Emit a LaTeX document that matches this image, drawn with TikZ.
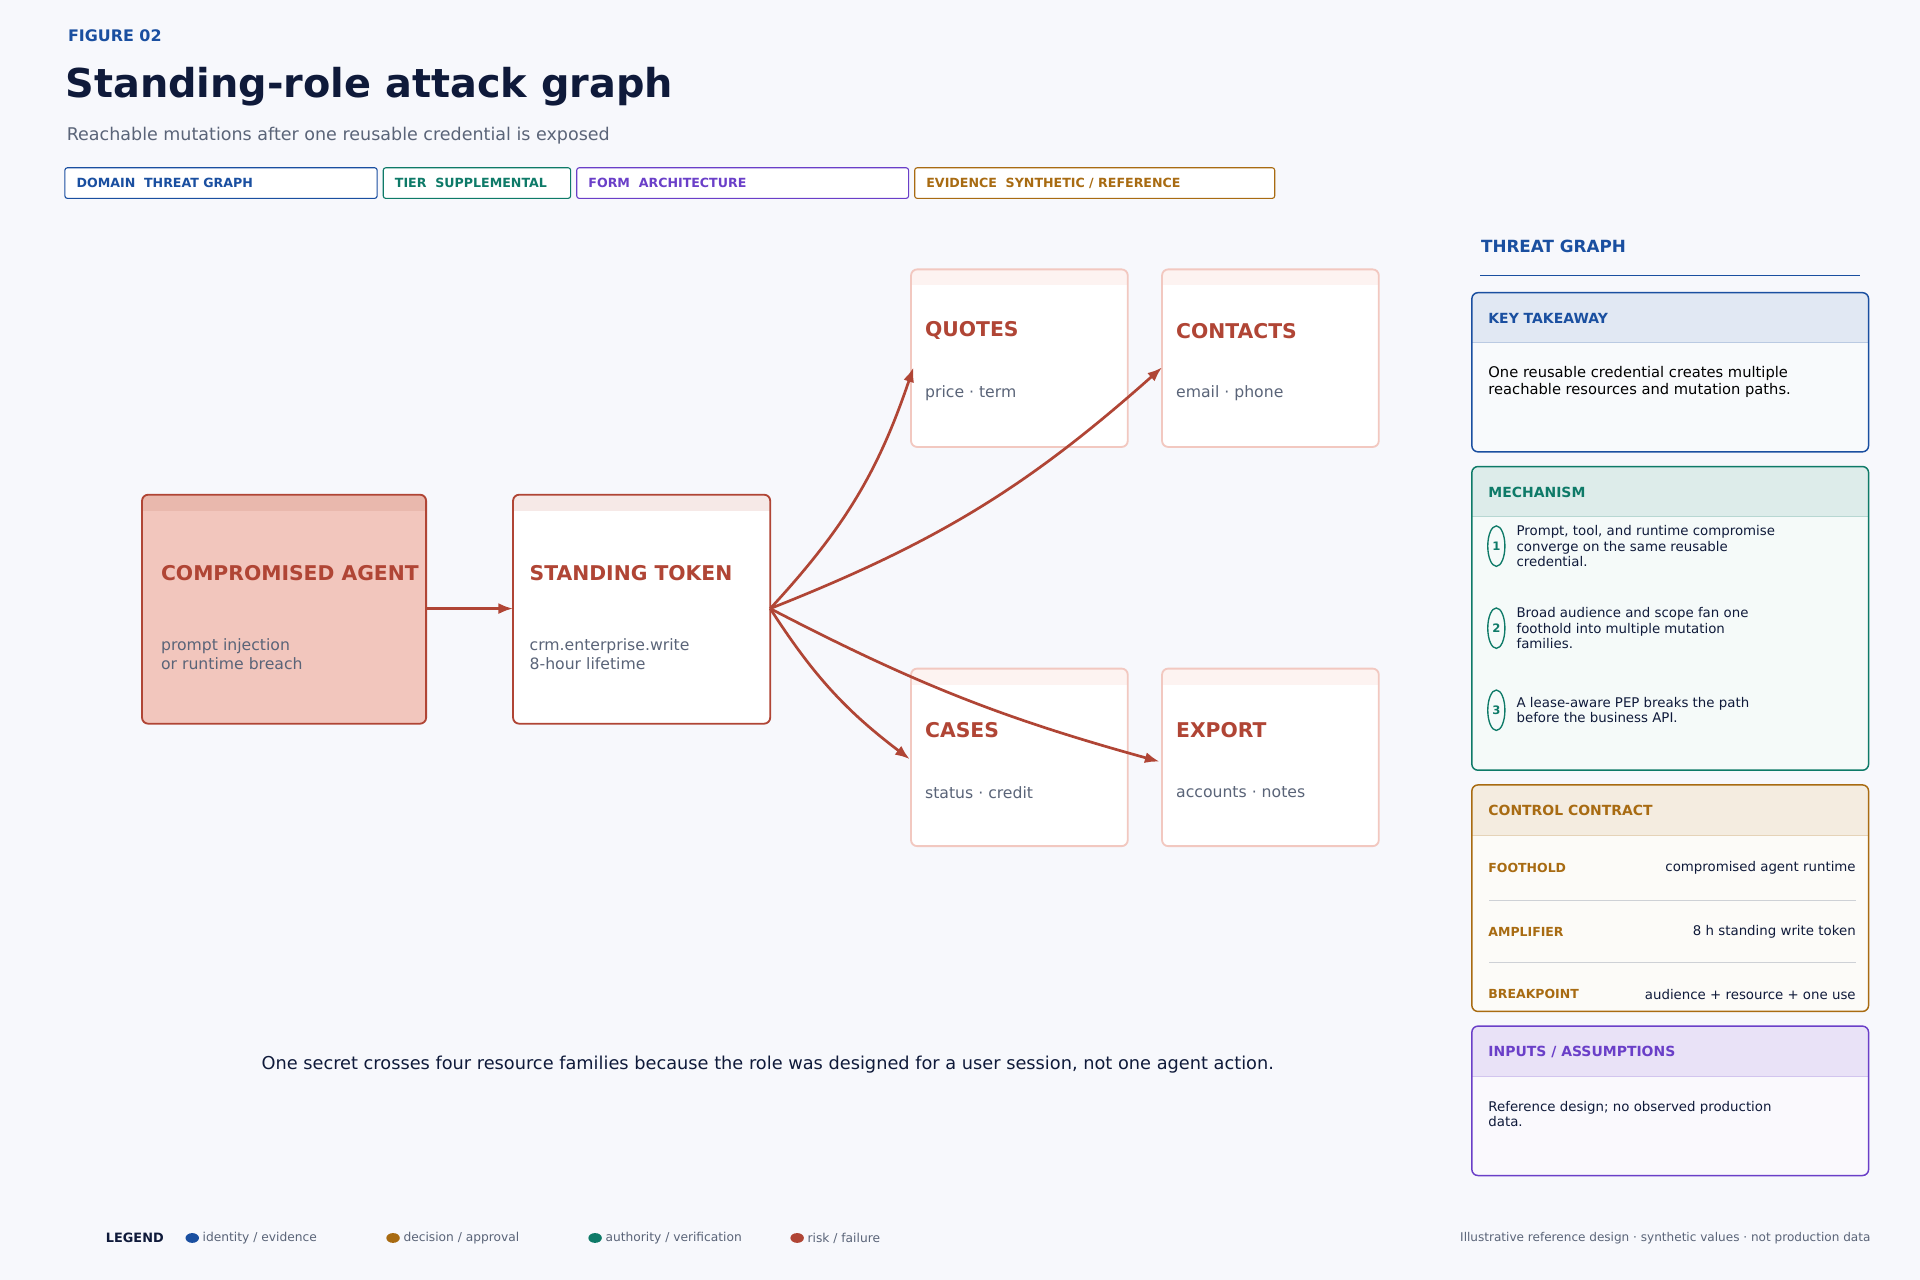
\documentclass[tikz,border=0pt]{standalone}
\usepackage{fontspec}
\setmainfont{DejaVu Sans}
\usetikzlibrary{arrows.meta,shapes.geometric}
\definecolor{bg}{HTML}{F7F8FC}
\definecolor{blu}{HTML}{1A4FA0}
\definecolor{navy}{HTML}{0F1A3A}
\definecolor{gry}{HTML}{5A6478}
\definecolor{grn}{HTML}{0E7A68}
\definecolor{pur}{HTML}{6A3FC8}
\definecolor{brn}{HTML}{A86B12}
\definecolor{red}{HTML}{B04535}
\definecolor{pink}{HTML}{F2C6BD}
\definecolor{pinkh}{HTML}{E9B8AD}
\definecolor{lpk}{HTML}{F2C8C0}
\definecolor{lph}{HTML}{FDF3F1}
\tikzset{x=1pt,y=-1pt,
 tag/.style={draw=#1,rounded corners=2,line width=0.9pt,fill=white},
 tagt/.style={anchor=west,text=#1,font=\fontsize{10.3}{12}\selectfont\bfseries},
 ttl/.style={anchor=west,text=red,font=\fontsize{16.6}{19}\selectfont\bfseries},
 sub/.style={anchor=north west,text=gry,font=\fontsize{12.8}{15.5}\selectfont,align=left},
 arr/.style={-{Latex[length=12pt,width=9pt]},draw=red,line width=2.2pt},
 ptxt/.style={anchor=north west,text=navy,font=\fontsize{10.9}{12.5}\selectfont,align=left},
 hd/.style={anchor=west,font=\fontsize{11.4}{13}\selectfont\bfseries},
 lg/.style={anchor=west,text=gry,font=\fontsize{10}{12}\selectfont}}
\begin{document}
\begin{tikzpicture}
\fill[bg] (0,0) rectangle (1568,1045);
\useasboundingbox (0,0) rectangle (1568,1045);
\node[anchor=west,text=blu,font=\fontsize{13}{15}\selectfont\bfseries] (fig) at (52,29) {FIGURE 02};
\node[anchor=west,text=navy,font=\fontsize{32.5}{38}\selectfont\bfseries] (title) at (50,71) {Standing-role attack graph};
\node[anchor=west,text=gry,font=\fontsize{14.3}{17}\selectfont] (subt) at (51,111) {Reachable mutations after one reusable credential is exposed};
\draw[tag=blu] (53,137) rectangle (308,162); \node[tagt=blu] (t1) at (59,149.5) {DOMAIN\ \ THREAT GRAPH};
\draw[tag=grn] (313,137) rectangle (466,162); \node[tagt=grn] (t2) at (319,149.5) {TIER\ \ SUPPLEMENTAL};
\draw[tag=pur] (471,137) rectangle (742,162); \node[tagt=pur] (t3) at (477,149.5) {FORM\ \ ARCHITECTURE};
\draw[tag=brn] (747,137) rectangle (1041,162); \node[tagt=brn] (t4) at (753,149.5) {EVIDENCE\ \ SYNTHETIC / REFERENCE};
% agent
\begin{scope}
\clip[rounded corners=5] (116,404) rectangle (348,591);
\fill[pink] (116,404) rectangle (348,591);
\fill[pinkh] (116,404) rectangle (348,417);
\end{scope}
\draw[red,line width=1.5pt,rounded corners=5] (116,404) rectangle (348,591);
\coordinate (agR) at (348,497);
\node[ttl] (agt) at (128,468) {COMPROMISED AGENT};
\node[sub] (ags) at (128,518) {prompt injection\\or runtime breach};
% token
\begin{scope}
\clip[rounded corners=5] (419,404) rectangle (629,591);
\fill[white] (419,404) rectangle (629,591);
\fill[red!12] (419,404) rectangle (629,417);
\end{scope}
\draw[red,line width=1.5pt,rounded corners=5] (419,404) rectangle (629,591);
\coordinate (tkL) at (419,497); \coordinate (tkR) at (629,497);
\node[ttl] (tkt) at (429,468) {STANDING TOKEN};
\node[sub] (tks) at (429,518) {crm.enterprise.write\\8-hour lifetime};
% resource boxes
\foreach \n/\x/\y/\t/\s in {q/744/220/QUOTES/price · term, c/949/220/CONTACTS/email · phone, k/744/546/CASES/status · credit, e/949/546/EXPORT/accounts · notes}{
 \begin{scope}
 \clip[rounded corners=5] (\x,\y) rectangle (\x+177,\y+145);
 \fill[white] (\x,\y) rectangle (\x+177,\y+145);
 \fill[lph] (\x,\y) rectangle (\x+177,\y+13);
 \end{scope}
 \draw[lpk,line width=1.5pt,rounded corners=5] (\x,\y) rectangle (\x+177,\y+145);
 \node[ttl] (\n t) at (\x+8,\y+50) {\t};
 \node[anchor=west,text=gry,font=\fontsize{12.8}{15}\selectfont] (\n s) at (\x+8,\y+101) {\s};
}
\coordinate (qIn) at (746,300); \coordinate (cIn) at (949,300);
\coordinate (kIn) at (743,620); \coordinate (eIn) at (947,622);
\draw[arr] (agR) -- (tkL);
\draw[arr] (tkR) to[bend right=12] (qIn);
\draw[arr] (tkR) to[bend right=10] (cIn);
\draw[arr] (tkR) to[bend right=10] (kIn);
\draw[arr] (tkR) to[bend right=6] (eIn);
\node[text=navy,font=\fontsize{14.5}{17}\selectfont] (cap) at (627,869) {One secret crosses four resource families because the role was designed for a user session, not one agent action.};
% right panel
\node[anchor=west,text=blu,font=\fontsize{13.7}{16}\selectfont\bfseries] (tg) at (1206,201) {THREAT GRAPH};
\draw[blu,line width=1.2pt] (1209,225) -- (1519,225);
\newcommand\panel[7]{% color, header fill, body fill, y1, y2, title, name
 \begin{scope}
 \clip[rounded corners=5] (1202,#4) rectangle (1526,#5);
 \fill[#3] (1202,#4) rectangle (1526,#5);
 \fill[#2] (1202,#4) rectangle (1526,#4+41);
 \end{scope}
 \draw[#1!30,line width=0.6pt] (1202,#4+41) -- (1526,#4+41);
 \draw[#1,line width=1.2pt,rounded corners=5] (1202,#4) rectangle (1526,#5);
 \node[hd,text=#1] (#7) at (1212,#4+21) {#6};}
\panel{blu}{blu!13}{blu!3}{239}{369}{KEY TAKEAWAY}{kt}
\node[anchor=north west,text=black,font=\fontsize{12}{13.5}\selectfont,align=left] (ktb) at (1212,296) {One reusable credential creates multiple\\reachable resources and mutation paths.};
\panel{grn}{grn!14}{grn!4}{381}{629}{MECHANISM}{mc}
\foreach \i/\y/\t in {1/446/{Prompt, tool, and runtime compromise\\converge on the same reusable\\credential.},2/513/{Broad audience and scope fan one\\foothold into multiple mutation\\families.},3/580/{A lease-aware PEP breaks the path\\before the business API.}}{
 \node[draw=grn,line width=1.1pt,ellipse,minimum width=14,minimum height=33,inner sep=0,text=grn,font=\fontsize{9.5}{10}\selectfont\bfseries] (m\i) at (1222,\y) {\i};
 \node[ptxt,anchor=west] (mt\i) at (1235,\y) {\t};
}
\panel{brn}{brn!13}{brn!3}{641}{826}{CONTROL CONTRACT}{cc}
\foreach \y/\a/\b in {709/FOOTHOLD/compromised agent runtime,761/AMPLIFIER/8 h standing write token,812/BREAKPOINT/audience + resource + one use}{
 \node[anchor=west,text=brn,font=\fontsize{10.2}{12}\selectfont\bfseries] at (1212,\y) {\a};
 \node[anchor=east,text=navy,font=\fontsize{10.9}{12}\selectfont] at (1519,\y) {\b};
}
\draw[gry!30] (1216,735) -- (1516,735); \draw[gry!30] (1216,786) -- (1516,786);
\panel{pur}{pur!15}{pur!3}{838}{960}{INPUTS / ASSUMPTIONS}{ia}
\node[ptxt] (iab) at (1212,896) {Reference design; no observed production\\data.};
% legend
\node[anchor=west,text=navy,font=\fontsize{10.5}{12}\selectfont\bfseries] (lg) at (83,1011) {LEGEND};
\foreach \x/\c/\t in {157/blu/{identity / evidence},321/brn/{decision / approval},486/grn/{authority / verification},651/red/{risk / failure}}{
 \fill[\c] (\x,1011) ellipse (5.5 and 4);
 \node[lg] at (\x+5,1011) {\t};}
\node[anchor=east,text=gry,font=\fontsize{9.85}{12}\selectfont] (ft) at (1531,1011) {Illustrative reference design · synthetic values · not production data};
\end{tikzpicture}
\end{document}
